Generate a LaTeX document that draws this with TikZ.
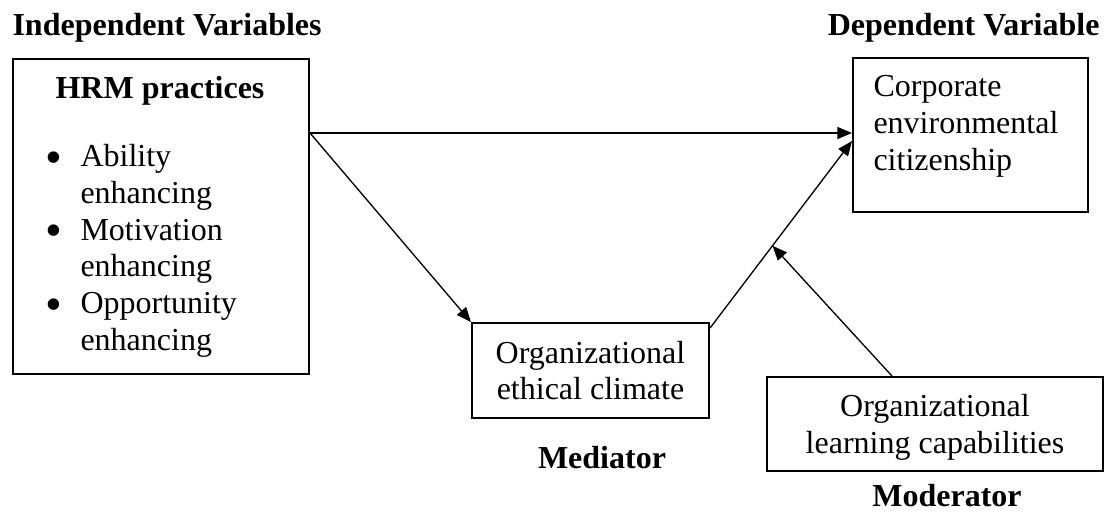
\documentclass[tikz,border=0pt]{standalone}
\usepackage{fontspec}
\usepackage{graphicx}
\setmainfont{Liberation Serif}
\usetikzlibrary{arrows.meta}
\usetikzlibrary{calc}
\usetikzlibrary{positioning}
\newcommand{\modelfont}{\fontsize{12pt}{13.73pt}\selectfont}
\newcommand{\itembullet}{\llap{\raisebox{-2.5pt}{\scalebox{1.5}{\textbullet}}\hspace{7pt}}}

\begin{document}
\begin{tikzpicture}[x=0.375pt,y=-0.375pt,>={Triangle[length=5.5pt,width=4.5pt]},font=\modelfont]
	\tikzstyle{varbox}=[draw, line width=0.75pt, inner sep=0pt]
	\tikzstyle{heading}=[font=\modelfont\bfseries, inner sep=0pt]
	\tikzstyle{boxtext}=[anchor=base west, align=left, inner sep=0pt]
	\tikzstyle{link}=[->, line width=0.5pt]
	\useasboundingbox (0,0) rectangle (1113,513);
	% headings
	\node[heading, anchor=base west] (indep) at (12,35) {Independent Variables};
	\node[heading, anchor=base east] (dep) at (1100,35) {Dependent Variable};
	% HRM practices (base of a multi-line node = its last line)
	\node[varbox, anchor=north west, minimum width=111pt, minimum height=118.1pt] (hrm) at (12,58) {};
	\node[heading, anchor=base] (hrmtitle) at (160,98) {HRM practices};
	\node[boxtext] (hrmlist) at (80,350)
		{\itembullet Ability\\enhancing\\
		 \itembullet Motivation\\enhancing\\
		 \itembullet Opportunity\\enhancing};
	% outcome
	\node[varbox, anchor=north west, minimum width=88.1pt, minimum height=57.75pt] (cec) at (852,57) {};
	\node[boxtext] (cectext) at (873,170) {Corporate\\environmental\\citizenship};
	% mediator, moderator
	\node[varbox, minimum width=88.9pt, minimum height=35.6pt, align=center] (med) at (590.5,370.5)
		{Organizational\\ethical climate};
	\node[varbox, minimum width=126pt, minimum height=35.25pt] (mod) at (935,424) {};
	\node[boxtext, anchor=base, align=center] (modtext) at (935,453)
		{Organizational\\learning capabilities};
	\node[heading, anchor=base] (medlabel) at (602,468) {Mediator};
	\node[heading, anchor=base] (modlabel) at (947,506) {Moderator};
	% connectors
	\coordinate (split) at ($(hrm.north east)+(0,75)$);
	\coordinate (medout) at ($(med.north east)+(0,6)$);
	\coordinate (cecin) at ($(cec.west)+(0,6)$);
	\coordinate (modpoint) at ($(medout)!0.44!(cecin)$);
	\coordinate (modout) at ($(mod.north)+(-43,0)$);
	\path
		(split) edge[link] (split -| cec.west)
		(split) edge[link] (med.north west)
		(medout) edge[link] (cecin)
		(modout) edge[link] (modpoint);
\end{tikzpicture}
\end{document}
